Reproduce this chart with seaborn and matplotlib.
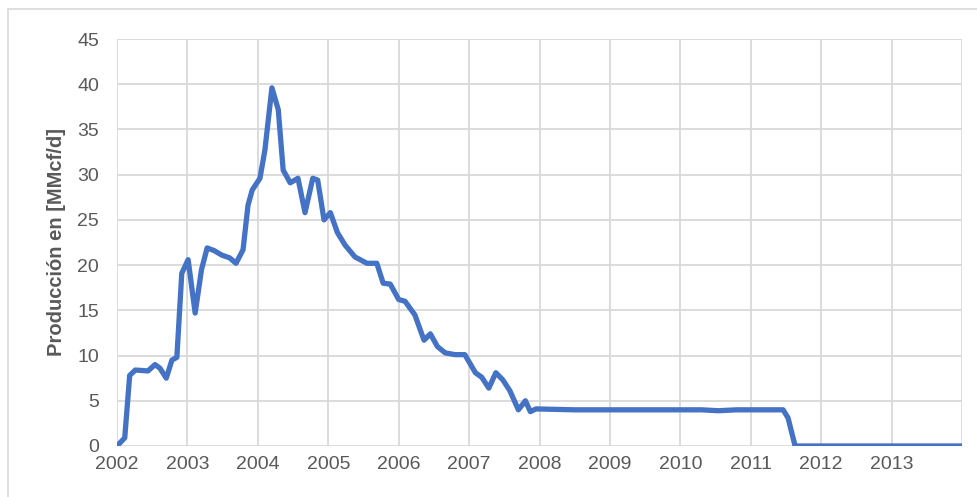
import pandas as pd
import matplotlib.pyplot as plt
import seaborn as sns
from matplotlib.patches import Rectangle

sns.set_theme(style="whitegrid")
plt.rcParams["font.family"] = ["Liberation Sans", "DejaVu Sans"]

# Fecha (años decimales) y producción
fecha = [2002.00, 2002.11, 2002.18, 2002.26, 2002.44, 2002.54, 2002.61, 2002.70, 2002.78, 2002.85,
         2002.92, 2003.01, 2003.11, 2003.20, 2003.28, 2003.38, 2003.49, 2003.60, 2003.69, 2003.79,
         2003.86, 2003.92, 2004.03, 2004.10, 2004.20, 2004.29, 2004.36, 2004.46, 2004.57, 2004.67,
         2004.78, 2004.85, 2004.94, 2005.03, 2005.13, 2005.24, 2005.38, 2005.55, 2005.69, 2005.78,
         2005.88, 2006.00, 2006.09, 2006.23, 2006.36, 2006.45, 2006.55, 2006.66, 2006.80, 2006.94,
         2007.09, 2007.18, 2007.28, 2007.38, 2007.48, 2007.58, 2007.70, 2007.80, 2007.87, 2007.95,
         2008.50, 2009.50, 2010.30, 2010.54, 2010.80, 2011.46, 2011.53, 2011.63, 2012.50, 2013.50,
         2014.00]
produccion = [0.0, 0.9, 7.8, 8.4, 8.3, 9.0, 8.6, 7.5, 9.5, 9.8,
              19.1, 20.6, 14.7, 19.5, 21.9, 21.6, 21.1, 20.8, 20.2, 21.7,
              26.6, 28.3, 29.6, 32.7, 39.6, 37.2, 30.5, 29.1, 29.6, 25.8,
              29.6, 29.4, 25.0, 25.8, 23.6, 22.2, 20.9, 20.2, 20.2, 18.0,
              17.9, 16.2, 16.0, 14.5, 11.7, 12.4, 11.0, 10.3, 10.1, 10.1,
              8.1, 7.6, 6.4, 8.1, 7.3, 6.1, 4.0, 5.0, 3.8, 4.1,
              4.0, 4.0, 4.0, 3.9, 4.0, 4.0, 3.1, 0.0, 0.0, 0.0,
              0.0]
anios = list(range(2002, 2015))
etiquetas_x = [str(a) for a in range(2002, 2014)] + [""]
ticks_y = list(range(0, 50, 5))

df = pd.DataFrame({"fecha": fecha, "produccion": produccion})

fig = plt.figure(figsize=(9.78, 4.97), dpi=100)
ax = fig.add_axes([117 / 978, 1 - 446 / 497, (962 - 117) / 978, (446 - 39) / 497])

# borde del área del gráfico
fig.patches.append(Rectangle((8 / 978, -0.01), 1.0, 1 - 9 / 497 + 0.01, transform=fig.transFigure,
                             fill=False, edgecolor="#d9d9d9", linewidth=1.2, zorder=0))

sns.lineplot(data=df, x="fecha", y="produccion", ax=ax, color="#4472C4", linewidth=3.8,
             estimator=None, sort=False)
ax.lines[0].set_solid_joinstyle("round")
ax.lines[0].set_solid_capstyle("round")

ax.set_xlim(2002, 2014)
ax.set_ylim(0, 45)
ax.set_xticks(anios)
ax.set_xticklabels(etiquetas_x)
ax.set_yticks(ticks_y)
ax.grid(True, color="#d9d9d9", linewidth=1.3)
for s in ax.spines.values():
    s.set_visible(False)
ax.tick_params(axis="y", length=0, pad=13, labelsize=14, labelcolor="#595959")
ax.tick_params(axis="x", length=0, pad=7, labelsize=14, labelcolor="#595959")
ax.set_xlabel("")
ax.set_ylabel("Producción en [MMcf/d]", fontsize=14.5, fontweight="bold", color="#595959", labelpad=8)

fig.savefig("out.png", dpi=100)
